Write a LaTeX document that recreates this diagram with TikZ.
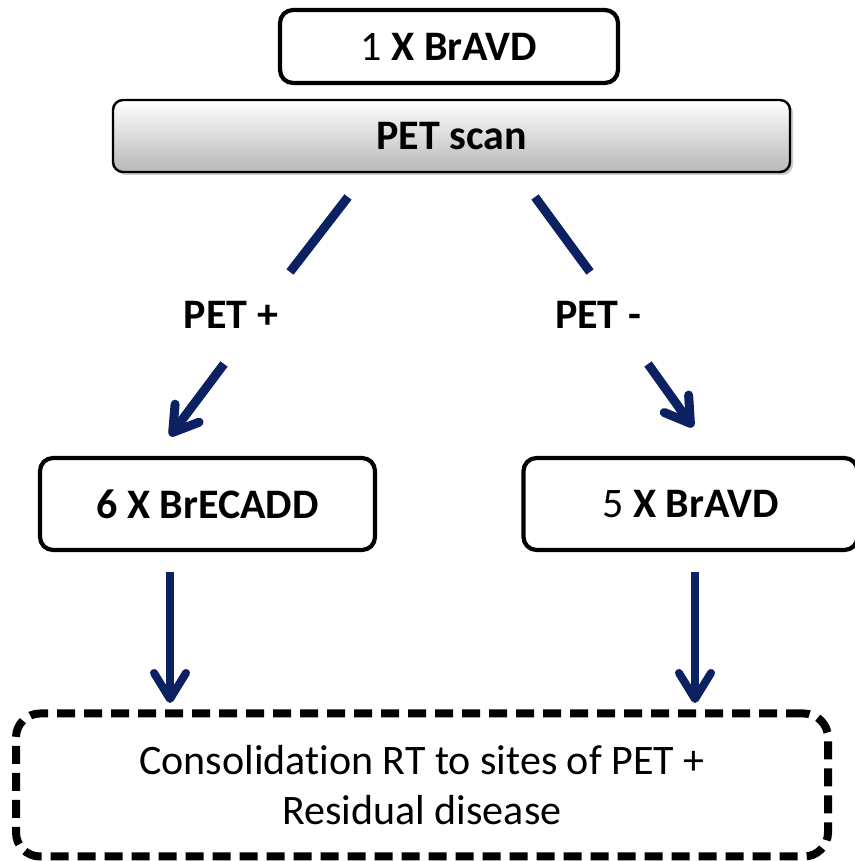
\documentclass[tikz,border=0pt]{standalone}
\usepackage{fontspec}
\setmainfont{Carlito}[Ligatures={NoCommon}]
\usetikzlibrary{arrows.meta,shadows}
\definecolor{navy}{HTML}{0B2161}
\begin{document}
\begin{tikzpicture}[x=1pt,y=1pt,
  txt/.style={font=\fontsize{42}{50}\selectfont, align=center},
  box/.style={draw=black, line width=4.2pt, rounded corners=13pt, fill=white, txt},
  conn/.style={draw=navy, line width=9pt},
  diagarrow/.style={conn, -{Straight Barb[length=24pt,width=30pt,line cap=round,round]}},
  vertarrow/.style={draw=navy, line width=8pt, -{Straight Barb[length=26pt,width=32pt,line cap=round,round]}}
]
\useasboundingbox (0,0) rectangle (854,861);
% boxes
\node[box, minimum width=338pt, minimum height=73pt] (c1) at (449,814.5) {1 \textbf{X BrAVD}};
\node[draw=black, line width=2.4pt, rounded corners=10pt, minimum width=677pt, minimum height=72pt,
  top color=white, bottom color=black!28, drop shadow={shadow xshift=3pt, shadow yshift=-3pt, fill=black!35, opacity=0.6}, txt] (pet) at (451.5,725) {\textbf{PET scan}};
\node[txt] (pp) at (231,546) {\textbf{PET +}};
\node[txt] (pm) at (598,546) {\textbf{PET -}};
\node[box, minimum width=335pt, minimum height=92pt] (ecadd) at (207.5,357) {\textbf{6 X BrECADD}};
\node[box, minimum width=334pt, minimum height=92pt] (avd) at (690.5,357) {5 \textbf{X BrAVD}};
\node[draw=black, line width=8pt, dash pattern=on 18pt off 9pt, rounded corners=24pt,
  minimum width=812pt, minimum height=143pt, txt] (rt) at (422,76)
  {Consolidation RT to sites of PET +\\Residual disease};
% connector coordinates
\coordinate (l1a) at (348,664);
\coordinate (l1b) at (290,589);
\coordinate (r1a) at (535,664);
\coordinate (r1b) at (590,589);
\coordinate (l2a) at (224,497);
\coordinate (l2b) at (170,425);
\coordinate (r2a) at (648,497);
\coordinate (r2b) at (693,434);
\coordinate (v1a) at (170,289);
\coordinate (v1b) at (170,158);
\coordinate (v2a) at (695,289);
\coordinate (v2b) at (695,158);
\draw[conn] (l1a) -- (l1b);
\draw[conn] (r1a) -- (r1b);
\draw[diagarrow] (l2a) -- (l2b);
\draw[diagarrow] (r2a) -- (r2b);
\draw[vertarrow] (v1a) -- (v1b);
\draw[vertarrow] (v2a) -- (v2b);
\end{tikzpicture}
\end{document}
